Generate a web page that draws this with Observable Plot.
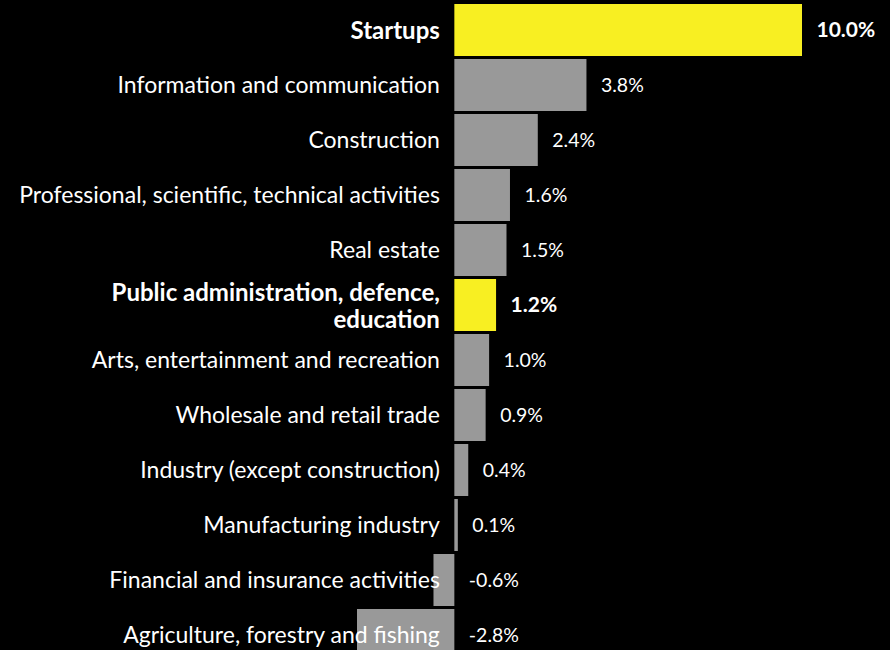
<!DOCTYPE html>
<html>
<head>
<meta charset="utf-8">
<script src="https://cdn.jsdelivr.net/npm/d3@7"></script>
<script src="https://cdn.jsdelivr.net/npm/@observablehq/plot@0.6"></script>
<style>
  html, body { margin: 0; padding: 0; background: #000; overflow: hidden; }
  #chart svg { display: block; }
</style>
</head>
<body>
<div id="chart"></div>
<script>
const categories = [
  "Startups",
  "Information and communication",
  "Construction",
  "Professional, scientific, technical activities",
  "Real estate",
  "Public administration, defence,\neducation",
  "Arts, entertainment and recreation",
  "Wholesale and retail trade",
  "Industry (except construction)",
  "Manufacturing industry",
  "Financial and insurance activities",
  "Agriculture, forestry and fishing"
];
const values = [10.0, 3.8, 2.4, 1.6, 1.5, 1.2, 1.0, 0.9, 0.4, 0.1, -0.6, -2.8];
const highlighted = ["Startups", "Public administration, defence,\neducation"];

const data = categories.map((c, i) => ({category: c, value: values[i], hi: highlighted.includes(c)}));
const hiData = data.filter(d => d.hi);
const loData = data.filter(d => !d.hi);
const fmt = v => v.toFixed(1) + "%";
const font = "Lato, 'Noto Sans', sans-serif";

const chart = Plot.plot({
  width: 890,
  height: 650,
  marginLeft: 357,
  marginRight: 88,
  marginTop: 0,
  marginBottom: 0,
  style: {background: "#000", color: "#fff", fontFamily: font, overflow: "hidden"},
  x: {domain: [-2.8, 10], axis: null},
  y: {domain: categories, range: [0, 664], padding: 0.06, axis: null},
  marks: [
    Plot.barX(data, {y: "category", x: "value", fill: d => d.hi ? "#f8ef22" : "#999999"}),
    Plot.text(loData, {y: "category", x: 0, text: "category", textAnchor: "end", dx: -15, fill: "#fff", fontSize: 23, fontFamily: font}),
    Plot.text(hiData, {y: "category", x: 0, text: "category", textAnchor: "end", dx: -15, fill: "#fff", fontSize: 24, fontWeight: "bold", lineHeight: 1.13, fontFamily: font}),
    Plot.text(loData, {y: "category", x: d => Math.max(d.value, 0), text: d => fmt(d.value), textAnchor: "start", dx: 14, fill: "#fff", fontSize: 19.5, fontFamily: font}),
    Plot.text(hiData, {y: "category", x: d => Math.max(d.value, 0), text: d => fmt(d.value), textAnchor: "start", dx: 14, fill: "#fff", fontSize: 21, fontWeight: "bold", fontFamily: font})
  ]
});
document.getElementById("chart").appendChild(chart);
</script>
</body>
</html>
